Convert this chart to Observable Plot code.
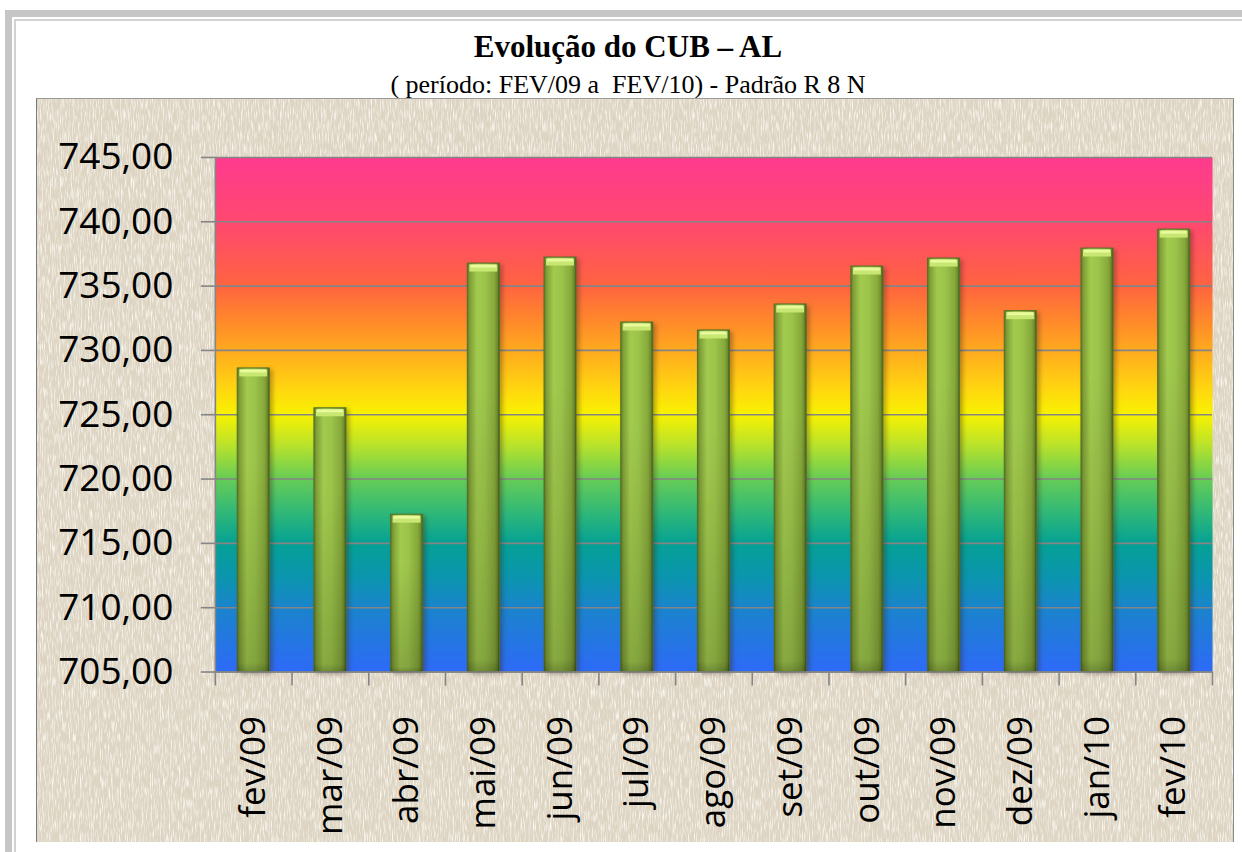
<!DOCTYPE html>
<html>
<head>
<meta charset="utf-8">
<script src="https://cdn.jsdelivr.net/npm/d3@7"></script>
<script src="https://cdn.jsdelivr.net/npm/@observablehq/plot@0.6"></script>
<style>
  html, body { margin: 0; padding: 0; background: #fff; width: 1242px; height: 852px; overflow: hidden; }
  #page { position: relative; width: 1242px; height: 852px; }
  #outer1 { position: absolute; left: 5px; top: 10px; width: 1300px; height: 900px; border-left: 7px solid #c6c6c6; border-top: 7px solid #c6c6c6; }
  #outer2 { position: absolute; left: 14px; top: 19px; width: 1300px; height: 900px; border-left: 2px solid #d2d2d2; border-top: 2px solid #d2d2d2; }
  #title { position: absolute; left: 14px; width: 1228px; top: 30px; text-align: center; font-family: "Liberation Serif", "Times New Roman", serif; font-weight: bold; font-size: 31px; line-height: 34px; color: #000; }
  #subtitle { position: absolute; left: 14px; width: 1228px; top: 71px; text-align: center; font-family: "Liberation Serif", "Times New Roman", serif; font-size: 26px; line-height: 28px; color: #000; }
  #chartbox { position: absolute; left: 36px; top: 98px; width: 1198px; height: 744px; background: #ddd4c2; border-left: 1px solid #7a7a7a; border-top: 1px solid #9a9a9a; border-right: 1px solid #8a8a8a; box-sizing: border-box; overflow: hidden; }
  #tex { position: absolute; left: 0; top: 0; }
  #chart { position: absolute; left: -1px; top: -1px; }
</style>
</head>
<body>
<div id="page">
  <div id="outer1"></div>
  <div id="outer2"></div>
  <div id="title">Evolução do CUB – AL</div>
  <div id="subtitle">( período: FEV/09 a&nbsp; FEV/10) - Padrão R 8 N</div>
  <div id="chartbox">
    <svg id="tex" width="1198" height="744">
      <defs>
        <filter id="texLight" x="0" y="0" width="100%" height="100%">
          <feTurbulence type="fractalNoise" baseFrequency="0.9 0.09" numOctaves="2" seed="3" result="n"/>
          <feColorMatrix in="n" type="matrix" values="0 0 0 0 0.95  0 0 0 0 0.93  0 0 0 0 0.87  2.6 0 0 0 -1.15"/>
        </filter>
        <filter id="texDark" x="0" y="0" width="100%" height="100%">
          <feTurbulence type="fractalNoise" baseFrequency="0.09 0.9" numOctaves="2" seed="8" result="n"/>
          <feColorMatrix in="n" type="matrix" values="0 0 0 0 0.72  0 0 0 0 0.67  0 0 0 0 0.58  2.2 0 0 0 -1.05"/>
        </filter>
      </defs>
      <rect width="1198" height="744" filter="url(#texDark)"/>
      <rect width="1198" height="744" filter="url(#texLight)"/>
    </svg>
    <div id="chart"></div>
  </div>
</div>
<script>
// ---- data ----
const months = ["fev/09","mar/09","abr/09","mai/09","jun/09","jul/09","ago/09","set/09","out/09","nov/09","dez/09","jan/10","fev/10"];
const values = [728.60, 725.50, 717.23, 736.75, 737.22, 732.17, 731.55, 733.57, 736.52, 737.14, 733.05, 737.92, 739.39];
const yTicks = [705, 710, 715, 720, 725, 730, 735, 740, 745];

const data = months.map((m, i) => ({month: m, value: values[i]}));

const W = 1198, H = 744, mL = 179, mR = 21, mT = 59, mB = 170;
const step = (W - mL - mR) / months.length;
const barInset = (step - 32) / 2;
const fmt = d => d.toFixed(2).replace(".", ",");

const plot = Plot.plot({
  width: W, height: H,
  marginLeft: mL, marginRight: mR, marginTop: mT, marginBottom: mB,
  style: {background: "transparent", overflow: "visible", fontFamily: "'Open Sans', sans-serif", color: "#000"},
  x: {domain: months, padding: 0, round: false, label: null},
  y: {domain: [yTicks[0], yTicks[yTicks.length - 1]], label: null},
  marks: [
    Plot.frame({fill: "url(#bgGrad)", stroke: null}),
    Plot.gridY(yTicks, {stroke: "#858585", strokeOpacity: 1, strokeWidth: 1.6}),
    Plot.barY(data, {x: "month", y1: yTicks[0], y2: "value", fill: "url(#barGrad)", insetLeft: barInset, insetRight: barInset, stroke: "#55712a", strokeWidth: 1}),
    Plot.barY(data, {x: "month", y1: yTicks[0], y2: "value", fill: "url(#barShade)", insetLeft: barInset, insetRight: barInset}),
    Plot.tickY(data, {x: "month", y: "value", stroke: "#c8e672", strokeWidth: 7, dy: 4.5, insetLeft: barInset + 2, insetRight: barInset + 2}),
    Plot.tickY(data, {x: "month", y: "value", stroke: "#e8fa9c", strokeWidth: 3, dy: 2.5, insetLeft: barInset + 3, insetRight: barInset + 3}),
    Plot.ruleY([yTicks[0]], {stroke: "#858585", strokeWidth: 1.6}),
    Plot.frame({anchor: "left", stroke: "#858585", strokeWidth: 1.6}),
    Plot.axisY(yTicks, {anchor: "left", label: null, tickSize: 14, tickPadding: 28, tickFormat: fmt, fontSize: 37, stroke: "#858585", strokeWidth: 1.6, fill: "#000"}),
    Plot.axisX(months, {anchor: "bottom", label: null, tickSize: 14, text: null, dx: -step / 2, stroke: "#858585", strokeWidth: 1.6}),
    Plot.axisX([months[months.length - 1]], {anchor: "bottom", label: null, tickSize: 14, text: null, dx: step / 2, stroke: "#858585", strokeWidth: 1.6}),
    Plot.axisX(months, {anchor: "bottom", label: null, tickSize: 0, tickPadding: 44, tickRotate: -90, fontSize: 35, fill: "#000"})
  ]
});

const svg = d3.select(plot);
const defs = svg.insert("defs", ":first-child");
const bg = defs.append("linearGradient").attr("id", "bgGrad").attr("x1", 0).attr("y1", 0).attr("x2", 0).attr("y2", 1);
[
  [0.000, "#ff3a8e"], [0.125, "#ff4870"], [0.25, "#ff6440"], [0.32, "#ff8a2a"],
  [0.375, "#ffaa1e"], [0.45, "#ffd610"], [0.5, "#f8f200"], [0.56, "#b8e22c"],
  [0.625, "#66cc56"], [0.69, "#30b878"], [0.75, "#04a194"], [0.82, "#0c94b0"],
  [0.875, "#1a84cc"], [0.94, "#2476e2"], [1.0, "#2e6af8"]
].forEach(([o, c]) => bg.append("stop").attr("offset", o).attr("stop-color", c));

const bar = defs.append("linearGradient").attr("id", "barGrad").attr("x1", 0).attr("y1", 0).attr("x2", 1).attr("y2", 0);
[
  [0.0, "#5d7a26"], [0.08, "#7f9f36"], [0.3, "#a2ca4e"], [0.55, "#9cc44a"],
  [0.85, "#86a83a"], [0.94, "#6e8c2c"], [1.0, "#3f5518"]
].forEach(([o, c]) => bar.append("stop").attr("offset", o).attr("stop-color", c));

const shade = defs.append("linearGradient").attr("id", "barShade").attr("x1", 0).attr("y1", 0).attr("x2", 0).attr("y2", 1);
[
  [0.0, "#ffffff", 0.0], [0.3, "#000000", 0.0], [0.97, "#000000", 0.16], [1.0, "#000000", 0.3]
].forEach(([o, c, a]) => shade.append("stop").attr("offset", o).attr("stop-color", c).attr("stop-opacity", a));

svg.selectAll("g[aria-label='bar']").filter((d, i, n) => i === 0).style("filter", "drop-shadow(3px 2px 2px rgba(60,40,20,0.35))");

document.getElementById("chart").appendChild(plot);
</script>
</body>
</html>
